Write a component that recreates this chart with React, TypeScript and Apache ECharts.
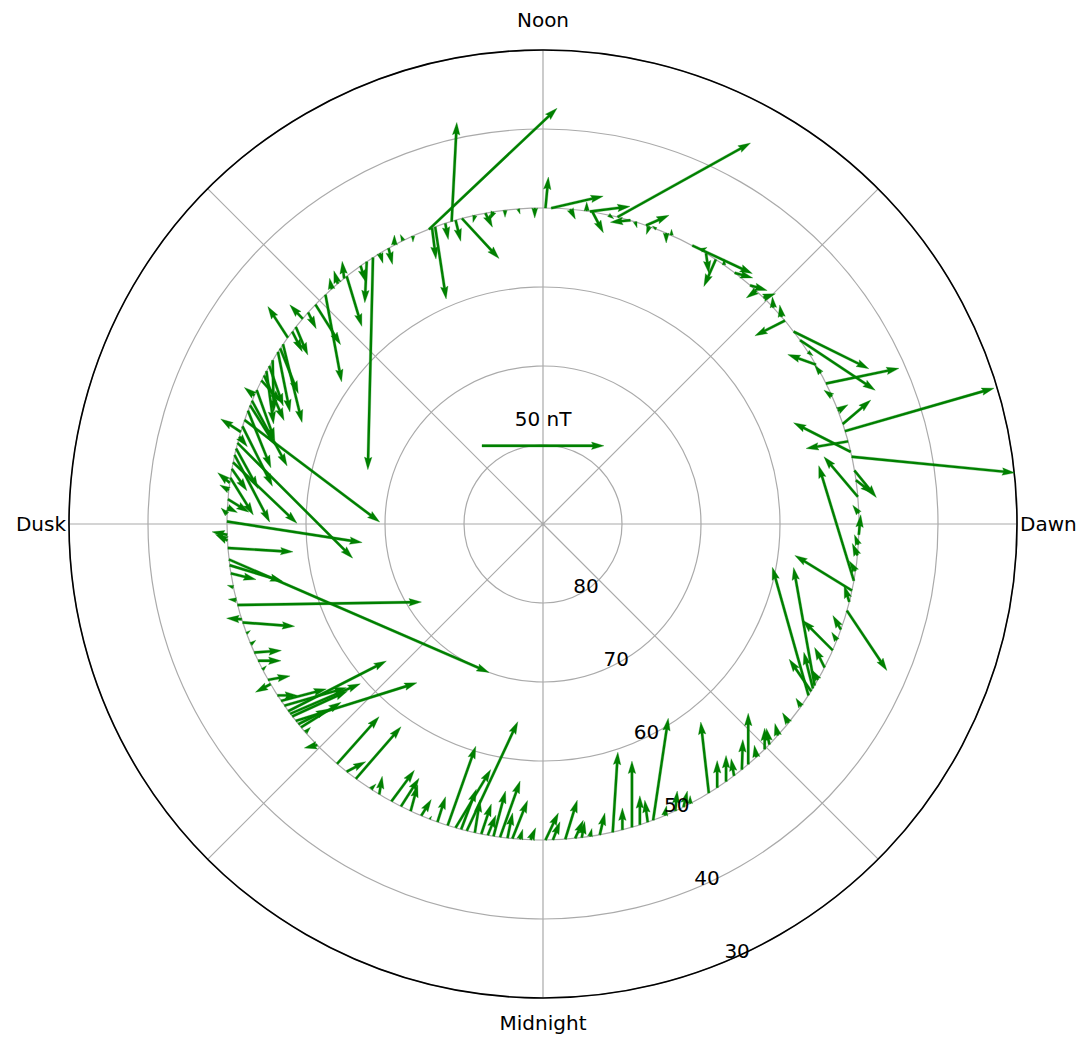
import React, { useEffect, useRef } from 'react';
import * as echarts from 'echarts';

// ---- data ----
const RING_LAT = 50; // magnetic latitude of the observation ring
const RADIAL_TICKS = [80, 70, 60, 50, 40, 30];
const RADIAL_LABEL_MLT = 1.5;
const SECTOR_LABELS: Record<number, string> = { 0: 'Midnight', 6: 'Dawn', 12: 'Noon', 18: 'Dusk' };

// arrow positions (magnetic local time, hours)
const MLT = [
  0.03, 0.12, 0.27, 0.39, 0.57, 0.69, 0.85, 0.97, 1.09, 1.19, 1.29, 1.36, 1.51, 1.76, 1.85,
  2.11, 2.23, 2.36, 2.48, 2.7, 2.83, 2.97, 3.2, 3.65, 3.81, 3.87, 3.91, 3.95, 4.03, 4.43,
  4.56, 4.94, 5.19, 5.31, 5.43, 5.62, 5.87, 6.13, 6.33, 6.53, 6.65, 6.82, 6.88, 7.01, 7.14,
  7.23, 7.59, 7.76, 8.02, 8.37, 8.5, 8.67, 8.73, 9.27, 9.51, 9.67, 9.79, 9.93, 10.12, 10.4,
  10.47, 10.69, 10.73, 10.87, 10.93, 11.09, 11.4, 11.43, 11.47, 11.67, 11.9, 11.97, 12.1, 12.46, 12.7,
  12.83, 12.99, 13.07, 13.12, 13.33, 13.37, 13.41, 13.62, 13.87, 13.95, 14.07, 14.17, 14.26, 14.56, 14.6,
  14.7, 14.8, 14.9, 15.07, 15.3, 15.43, 15.59, 15.69, 15.8, 15.92, 16.07, 16.2, 16.47, 16.6, 16.72,
  16.87, 17.01, 17.16, 17.25, 17.44, 17.59, 17.7, 17.97, 18.13, 18.29, 18.43, 18.5, 18.77, 18.93, 18.99,
  19.17, 19.21, 19.35, 19.49, 19.6, 19.71, 19.83, 19.97, 20.03, 20.19, 20.34, 20.42, 20.5, 20.57, 20.67,
  20.96, 21.29, 21.44, 21.58, 21.8, 21.92, 22.09, 22.22, 22.35, 22.49, 22.6, 22.83, 22.93, 23.07, 23.17,
  23.33, 23.48, 23.57, 23.72,
  15.5, 15.75, 16.0, 16.13, 16.33, 16.4, 16.53, 16.8, 16.93, 17.08, 17.33, 17.5, 17.8, 17.88, 18.2,
  18.6, 20.27, 20.46, 20.62, 20.75, 22.7, 23.0, 23.25, 23.4, 23.63, 23.85, 9.17, 8.88, 9.05, 0.47,
  1.65, 2.6, 3.05, 3.4, 4.2, 4.7, 5.05, 5.75, 7.4, 7.9, 8.2, 10.0, 10.6, 11.2, 12.3,
  12.6, 13.2, 13.75, 14.35, 15.2,
];
// horizontal (dusk->dawn, page right) component, nT
const BX = [
  5.3, 2.9, 4.9, 3.3, 0.8, 2.1, 2.1, 0, 0, 0, -1.2, 6.2, 0.8, 1.6, 0,
  -3.3, 0, 0, -1.2, 0, -0.8, 0, -1.2, -2.1, -14.8, -9.0, -3.7, -8.6, -2.5, -12.3,
  -2.1, 16.4, -23.4, -14.4, -2.5, -2.1, 0.8, -2.5, -13.9, 7.0, 9.0, 66.8, -23.4, -17.2, 61.1,
  11.5, -3.3, 29.9, -11.5, 30.8, 30.8, -12.3, -0.8, 7.0, 7.4, 0, -4.9, 1.2, 24.6, 0,
  0, -1.2, 9.4, 0.8, -8.2, 54.5, 4.5, 16.4, 0, 2.1, 21.3, 1.2, 0, 0, 2.9,
  -0.8, 15.2, 2.1, 2.1, 4.5, 1.6, 52.5, 0, 0, 1.6, 1.2, -2.1, -0.8, 6.2, -0.8,
  -1.6, -0.8, 6.6, 10.3, -5.3, 4.9, -8.2, 7.8, 4.9, 0.4, 2.9, 8.2, 14.4, 9.4, 55.4,
  -8.2, 47.2, 14.4, 26.2, 9.4, -3.7, 8.6, 55.4, -6.2, 26.7, 106.6, 21.7, -2.5, -3.3, 75.4,
  -6.2, 21.3, 1.6, 2.1, 11.1, 9.4, 1.6, 9.0, -6.2, 8.2, 25.4, 40.2, 22.6, 49.6, 16.4,
  -5.3, 17.2, 7.8, 18.5, 2.1, 1.2, 9.4, 7.4, 2.9, 4.1, 0.8, 11.5, 14.4, 20.9, 2.1,
  3.3, 8.2, 2.1, 1.2,
  4.1, 7.4, 5.7, 8.2, 7.4, -4.1, 10.3, 12.3, 3.3, 9.0, 6.2, -4.9, 4.1, -2.5, -4.9,
  10.3, 18.5, 28.7, 12.3, 2.1, 3.3, 6.2, 4.1, 4.9, 6.2, 2.1, -4.1, -0.4, 4.9, 1.2,
  0.8, 0.4, -1.2, -2.5, -4.1, -3.3, -2.1, -1.6, 4.1, -2.5, 2.1, 2.5, -1.6, 2.1, 0.8,
  -1.6, 1.2, -1.2, 2.1, 3.3,
];
// vertical (midnight->noon, page up) component, nT
const BY = [
  11.1, 7.4, 16.0, 7.4, 3.3, 9.0, 32.8, 9.0, 27.1, 11.9, 9.0, 41.8, 4.1, 6.6, 3.3,
  29.1, 11.1, 10.7, 7.0, 20.9, 4.9, 8.6, 4.9, 3.3, 52.5, 13.1, 14.8, 48.4, 4.1, 12.3,
  3.3, -24.6, 14.4, 47.2, 4.1, 4.9, 8.2, 3.3, 16.4, -5.3, -11.1, -6.6, 11.9, -2.9, 17.6,
  9.8, 2.5, 6.2, 4.1, -20.5, -15.2, -6.2, 4.9, -2.1, -2.1, 2.5, -11.1, -8.2, -11.5, 2.5,
  -4.1, -3.3, 4.1, -2.5, -0.8, 30.3, -8.6, 2.1, 3.7, -4.1, 4.9, 12.7, -4.1, -2.9, -5.7,
  -2.9, -16.4, -8.6, 40.6, -29.5, -12.7, 49.6, -2.5, 4.1, -6.6, -4.1, -86.9, -16.8, -20.5, 7.0,
  5.3, 4.5, -35.7, -16.4, 5.7, -11.5, 12.7, -32.0, -24.6, -21.3, -21.7, -9.0, -26.7, -23.4, -41.8,
  5.3, -47.2, -27.5, -25.0, -15.2, 2.1, -5.3, -8.6, 1.2, -1.6, -46.3, -6.6, 0.8, 0.4, 1.2,
  0.4, -1.6, 1.2, 1.6, 0.8, 0, 1.6, 1.6, -3.3, 0, 7.4, 20.5, 10.3, 15.6, 10.3,
  -1.2, 19.3, 4.1, 21.3, 2.1, 7.4, 12.7, 11.5, 10.7, 6.6, 1.2, 32.4, 23.8, 44.7, 13.5,
  8.2, 23.0, 10.3, 4.1,
  -8.2, -18.5, -16.4, -18.5, -20.5, 3.3, -16.4, -24.6, -4.1, -16.4, -9.0, 4.1, -2.1, 2.5, 2.5,
  -2.5, 4.9, 12.3, 6.2, 2.1, 10.3, 16.4, 12.3, 18.5, 15.6, 4.9, -2.9, 4.5, 1.6, 6.6,
  8.2, 12.3, 6.6, 4.1, 8.2, 5.7, 6.6, 4.1, 2.5, 3.3, -1.6, 1.2, 1.2, -1.6, -2.1,
  -3.3, -6.6, 2.5, -6.6, -6.6,
];

// reference (key) arrow
const REF_NT = 50;
const REF_LAT = 80.1;
const REF_MLT = 12;
const REF_LABEL = '50 nT';

// ---- styling / scale ----
const QUIVER_REF_DEG = 15.44; // length, in degrees of latitude, of a REF_NT arrow
const FONT = 'DejaVu Sans';
const GREEN = '#008000';
const GRID = '#aaaaaa';
const SHAFT_W = 2.4;
const HEAD_LEN = 12.5;
const HEAD_AXIS = 11.25;
const HEAD_W = 7.5;

function arrowPoints(x0: number, y0: number, dx: number, dy: number): number[][] {
  const L = Math.hypot(dx, dy);
  if (L < SHAFT_W) {
    const r = SHAFT_W / 2;
    const pts: number[][] = [];
    for (let k = 0; k < 6; k++) {
      const a = (k * Math.PI) / 3;
      pts.push([x0 + r * Math.cos(a), y0 + r * Math.sin(a)]);
    }
    return pts;
  }
  const s = L < HEAD_LEN ? L / HEAD_LEN : 1;
  const w = SHAFT_W * s, hl = HEAD_LEN * s, ha = HEAD_AXIS * s, hw = HEAD_W * s;
  const ux = dx / L, uy = dy / L, nx = -uy, ny = ux;
  const pt = (a: number, b: number) => [x0 + ux * a + nx * b, y0 + uy * a + ny * b];
  return [
    pt(0, w / 2), pt(L - ha, w / 2), pt(L - hl, hw / 2), pt(L, 0),
    pt(L - hl, -hw / 2), pt(L - ha, -w / 2), pt(0, -w / 2),
  ];
}

function pxPerNT(api: any): number {
  const c0 = api.coord([90, 0]);
  const c1 = api.coord([90 - QUIVER_REF_DEG, 0]);
  return Math.hypot(c1[0] - c0[0], c1[1] - c0[1]) / REF_NT;
}

export default function App() {
  const ref = useRef<HTMLDivElement>(null);
  useEffect(() => {
    if (!ref.current) return;
    const chart = echarts.init(ref.current, undefined, { renderer: 'svg' });
    const arrowData = MLT.map((m, i) => [RING_LAT, m, BX[i], BY[i]]);
    const option: any = {
      animation: false,
      backgroundColor: '#ffffff',
      polar: { center: [543, 524], radius: 474 },
      angleAxis: {
        type: 'value',
        min: 0,
        max: 24,
        interval: 3,
        startAngle: 270,
        clockwise: false,
        axisLine: { show: true, lineStyle: { color: '#000000', width: 1.6 } },
        axisTick: { show: false },
        splitLine: { show: true, lineStyle: { color: GRID, width: 1.2 } },
        axisLabel: {
          show: true,
          margin: 3,
          fontSize: 20,
          fontFamily: FONT,
          color: '#000000',
          formatter: (v: number) => {
            if (v === 12) return '{n|Noon}';
            if (v === 0) return '{m|Midnight}';
            return SECTOR_LABELS[v] || '';
          },
          rich: {
            n: { fontSize: 20, fontFamily: FONT, color: '#000', padding: [0, 0, 17, 0] },
            m: { fontSize: 20, fontFamily: FONT, color: '#000', padding: [12, 0, 0, 0] },
          },
        },
      },
      radiusAxis: {
        type: 'value',
        min: 30,
        max: 90,
        interval: 10,
        inverse: true,
        axisLine: { show: false },
        axisTick: { show: false },
        axisLabel: { show: false },
        splitLine: { show: true, lineStyle: { color: GRID, width: 1.2 } },
      },
      series: [
        {
          type: 'custom',
          coordinateSystem: 'polar',
          encode: { radius: 0, angle: 1 },
          data: arrowData,
          clip: false,
          z: 3,
          renderItem: (params: any, api: any) => {
            const tail = api.coord([api.value(0), api.value(1)]);
            const k = pxPerNT(api);
            const dx = api.value(2) * k;
            const dy = -api.value(3) * k;
            return {
              type: 'polygon',
              shape: { points: arrowPoints(tail[0], tail[1], dx, dy) },
              style: { fill: GREEN, stroke: GREEN, lineWidth: 0.3 },
            };
          },
        },
        {
          type: 'custom',
          coordinateSystem: 'polar',
          encode: { radius: 0, angle: 1 },
          data: [[REF_LAT, REF_MLT, REF_NT]],
          clip: false,
          z: 4,
          renderItem: (params: any, api: any) => {
            const mid = api.coord([api.value(0), api.value(1)]);
            const k = pxPerNT(api);
            const len = api.value(2) * k;
            return {
              type: 'group',
              children: [
                {
                  type: 'polygon',
                  shape: { points: arrowPoints(mid[0] - len / 2, mid[1], len, 0) },
                  style: { fill: GREEN, stroke: GREEN, lineWidth: 0.3 },
                },
                {
                  type: 'text',
                  x: mid[0],
                  y: mid[1] - 27,
                  style: {
                    text: REF_LABEL,
                    fontSize: 20,
                    fontFamily: FONT,
                    fill: '#000000',
                    align: 'center',
                    verticalAlign: 'middle',
                  },
                },
              ],
            };
          },
        },
        {
          type: 'custom',
          coordinateSystem: 'polar',
          encode: { radius: 0, angle: 1 },
          data: RADIAL_TICKS.map((v) => [v, RADIAL_LABEL_MLT]),
          clip: false,
          silent: true,
          z: 5,
          renderItem: (params: any, api: any) => {
            const p = api.coord([api.value(0), api.value(1)]);
            return {
              type: 'text',
              x: p[0],
              y: p[1] - 1,
              style: {
                text: String(api.value(0)),
                fontSize: 20,
                fontFamily: FONT,
                fill: '#000000',
                align: 'left',
                verticalAlign: 'bottom',
              },
            };
          },
        },
      ],
    };
    chart.setOption(option);
    return () => chart.dispose();
  }, []);
  return (
    <div
      ref={ref}
      style={{ position: 'fixed', left: 0, top: 0, width: 1089, height: 1040, background: '#fff' }}
    />
  );
}
